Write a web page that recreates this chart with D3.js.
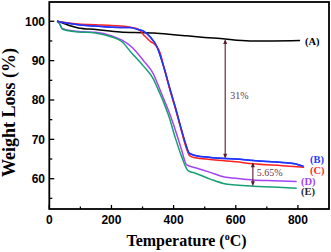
<!DOCTYPE html>
<html><head><meta charset="utf-8">
<script src="https://cdn.jsdelivr.net/npm/d3@7"></script>
<style>body{margin:0;background:#fff}svg{display:block}</style>
</head><body>
<svg id="c" width="331" height="252"></svg>
<script>
// ---- data ----
const tempA = [25, 45, 70, 93, 150, 228, 300, 336, 400, 443, 500, 566, 604, 657, 720, 807];
const lossA = [100, 99.5, 98.8, 98.3, 97.9, 97.3, 97.1, 97.0, 96.6, 96.3, 95.9, 95.5, 95.2, 95.0, 95.0, 95.1];
const tempB = [25, 50, 94, 150, 201, 260, 286, 303, 325, 346, 368, 389, 405, 425, 440, 450, 470, 518, 600, 656, 750, 790, 818];
const lossB = [100, 99.6, 99.1, 98.8, 98.5, 98.4, 97.9, 97.5, 96.0, 93.6, 88.5, 82.6, 78.3, 72.5, 68.5, 66.5, 65.9, 65.4, 65.0, 64.6, 64.1, 63.8, 63.1];
const tempC = [25, 51, 84, 150, 200, 260, 286, 303, 325, 341, 357, 368, 389, 405, 425, 440, 452, 470, 518, 600, 656, 750, 820];
const lossC = [100, 99.7, 99.4, 99.1, 98.9, 98.5, 98.0, 96.6, 94.9, 94.0, 91.9, 88.5, 82.3, 78.0, 72.2, 68.0, 65.8, 65.3, 64.9, 64.3, 63.8, 63.3, 62.9];
const tempD = [25, 33, 41, 62, 94, 148, 201, 234, 266, 303, 335, 351, 368, 385, 405, 425, 442, 470, 518, 560, 614, 656, 720, 796];
const lossD = [100, 99.4, 98.2, 97.7, 97.4, 97.2, 96.3, 95.2, 93.4, 90.0, 86.6, 83.6, 80.3, 77.0, 72.5, 67.5, 63.5, 62.8, 61.6, 60.5, 60.0, 59.7, 59.5, 59.3];
const tempE = [25, 33, 41, 62, 94, 148, 201, 234, 262, 303, 335, 351, 368, 385, 405, 425, 447, 470, 518, 560, 600, 656, 720, 796];
const lossE = [100, 99.4, 98.1, 97.6, 97.3, 97.0, 96.0, 94.8, 92.2, 88.6, 85.3, 82.5, 79.4, 75.8, 70.5, 65.8, 62.0, 61.4, 59.9, 58.8, 58.4, 58.1, 57.9, 57.6];
const seriesNames = ["(A)", "(B)", "(C)", "(D)", "(E)"];
const xTicks = [0, 200, 400, 600, 800];
const xMinor = [100, 300, 500, 700];
const yTicks = [60, 70, 80, 90, 100];
const yMinor = [55, 65, 75, 85, 95];
// annotations: [temperature, upper loss, lower loss, label]
const arrow1 = [566, 95.5, 65.1, "31%"];
const arrow2 = [655, 64.2, 58.1, "5.65%"];

// ---- layout ----
const svg = d3.select("#c");
const L = 49.3, R = 329, T = 2, B = 209;
const x = d3.scaleLinear().domain([0, 900]).range([L, R]);
const y = d3.scaleLinear().domain([52.3, 104.9]).range([B, T]);

const series = [
  {t: tempA, v: lossA, color: "#000000", label: seriesNames[0], lc: "#000000", lx: 305, ly: 41},
  {t: tempB, v: lossB, color: "#1f35ff", label: seriesNames[1], lc: "#1f35ff", lx: 310, ly: 159.5},
  {t: tempC, v: lossC, color: "#ff1f1f", label: seriesNames[2], lc: "#ff1f1f", lx: 310, ly: 170},
  {t: tempD, v: lossD, color: "#a443f5", label: seriesNames[3], lc: "#a443f5", lx: 301, ly: 181},
  {t: tempE, v: lossE, color: "#16a070", label: seriesNames[4], lc: "#1d2b2b", lx: 301, ly: 191.5}
];

const line = d3.line().x(d => x(d[0])).y(d => y(d[1])).curve(d3.curveMonotoneX);
series.forEach(s => {
  svg.append("path").attr("d", line(s.t.map((t, i) => [t, s.v[i]])))
    .attr("fill", "none").attr("stroke", s.color).attr("stroke-width", 1.5);
});
svg.append("path").attr("d", line(tempB.map((t, i) => [t, lossB[i]])))
  .attr("fill", "none").attr("stroke", "#1f35ff").attr("stroke-width", 1.5);

// legend labels
series.forEach(s => {
  svg.append("text").attr("x", s.lx).attr("y", s.ly).attr("dy", "0.35em")
    .attr("font-family", "Liberation Serif, Times New Roman, serif").attr("font-weight", "bold")
    .attr("font-size", 10.5).attr("fill", s.lc).text(s.label);
});

// arrows
const ac = "#5c1a30";
function arrow(a, lx, ly) {
  const xx = x(a[0]), y1 = y(a[1]), y2 = y(a[2]);
  svg.append("line").attr("x1", xx).attr("x2", xx).attr("y1", y1 + 2).attr("y2", y2 - 2)
    .attr("stroke", ac).attr("stroke-width", 1.1);
  svg.append("path").attr("d", `M${xx},${y1} l-2,5 l4,0 z`).attr("fill", ac);
  svg.append("path").attr("d", `M${xx},${y2} l-2,-5 l4,0 z`).attr("fill", ac);
  svg.append("text").attr("x", lx).attr("y", ly).attr("dy", "0.35em")
    .attr("font-family", "Liberation Serif, Times New Roman, serif")
    .attr("font-size", 10).attr("fill", "#6b3448").text(a[3]);
}
arrow(arrow1, x(arrow1[0]) + 5, 95);
arrow(arrow2, x(arrow2[0]) + 4, 172.5);

// frame
svg.append("rect").attr("x", L).attr("y", T).attr("width", R - L).attr("height", B - T)
  .attr("fill", "none").attr("stroke", "#000").attr("stroke-width", 1.8);

// ticks (inward)
const g = svg.append("g");
xTicks.forEach(t => g.append("line").attr("x1", x(t)).attr("x2", x(t)).attr("y1", B).attr("y2", B - 4).attr("stroke", "#000").attr("stroke-width", 1.3));
xMinor.forEach(t => g.append("line").attr("x1", x(t)).attr("x2", x(t)).attr("y1", B).attr("y2", B - 2.5).attr("stroke", "#000").attr("stroke-width", 1.3));
yTicks.forEach(t => g.append("line").attr("x1", L).attr("x2", L + 5).attr("y1", y(t)).attr("y2", y(t)).attr("stroke", "#000").attr("stroke-width", 1.3));
yMinor.forEach(t => g.append("line").attr("x1", L).attr("x2", L + 3).attr("y1", y(t)).attr("y2", y(t)).attr("stroke", "#000").attr("stroke-width", 1.3));

// tick labels
const tf = "Liberation Sans, Arial, sans-serif";
xTicks.forEach(t => svg.append("text").attr("x", x(t)).attr("y", 223.5).attr("text-anchor", "middle")
  .attr("font-family", tf).attr("font-weight", "bold").attr("font-size", 12).text(t));
yTicks.forEach(t => svg.append("text").attr("x", 45).attr("y", y(t)).attr("dy", "0.36em").attr("text-anchor", "end")
  .attr("font-family", tf).attr("font-weight", "bold").attr("font-size", 12).text(t));

// axis titles
const sf = "Liberation Serif, Times New Roman, serif";
const xt = svg.append("text").attr("x", 186.5).attr("y", 246).attr("text-anchor", "middle")
  .attr("font-family", sf).attr("font-weight", "bold").attr("font-size", 16);
xt.append("tspan").text("Temperature (");
xt.append("tspan").attr("font-size", 10).attr("dy", -6).text("o");
xt.append("tspan").attr("dy", 6).text("C)");
svg.append("text").attr("transform", "translate(15,112.5) rotate(-90)").attr("text-anchor", "middle")
  .attr("font-family", sf).attr("font-weight", "bold").attr("font-size", 18).text("Weight Loss (%)");
</script>
</body></html>
